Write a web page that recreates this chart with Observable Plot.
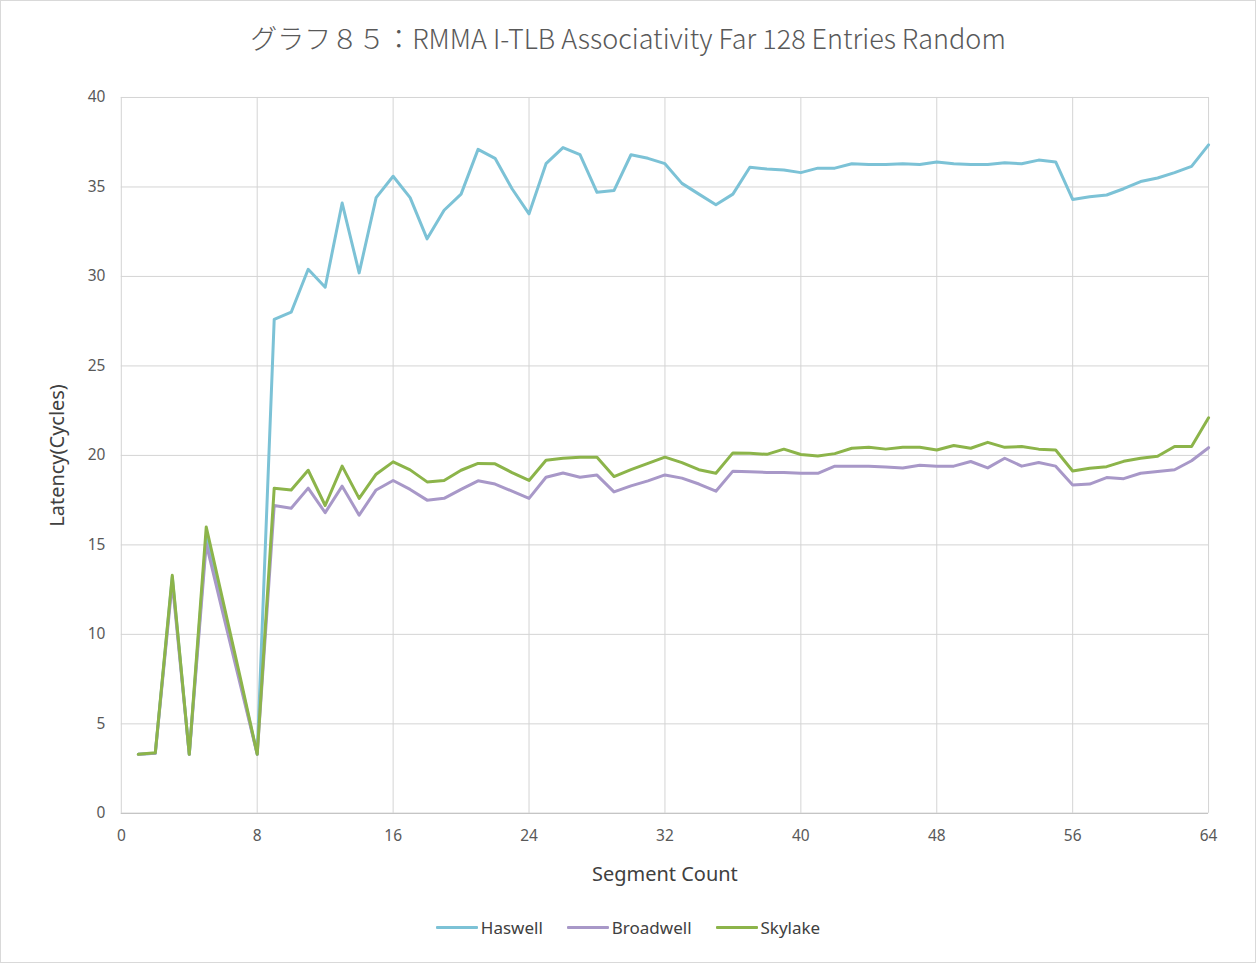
<!DOCTYPE html>
<html>
<head>
<meta charset="utf-8">
<script src="https://cdn.jsdelivr.net/npm/d3@7"></script>
<script src="https://cdn.jsdelivr.net/npm/@observablehq/plot@0.6"></script>
<style>
  html, body { margin: 0; padding: 0; background: #fff; }
  #frame { width: 1256px; height: 963px; box-sizing: border-box; border: 1px solid #d9d9d9; position: relative; overflow: hidden; }
  #title { height: 79px; line-height: 74px; text-align: center; font-family: "Noto Sans CJK JP", "Noto Sans", sans-serif; font-size: 27px; font-weight: 300; color: #595959; }
  #legend { display: flex; justify-content: center; align-items: center; gap: 24px; margin-top: 16px; font-family: "Noto Sans", sans-serif; font-size: 17px; color: #404040; }
  .item { display: flex; align-items: center; }
  .sw { width: 42px; height: 3px; margin-right: 3px; border-radius: 1px; }
</style>
</head>
<body>
<div id="frame">
  <div id="title">グラフ８５：RMMA I-TLB Associativity Far 128 Entries Random</div>
  <div id="chart"></div>
  <div id="legend"></div>
</div>
<script>
const segments = d3.range(1, 65);
const seriesNames = ["Haswell", "Broadwell", "Skylake"];
const seriesColors = ["#7cc2d6", "#a898c8", "#8cb44a"];

const haswell = [3.3, 3.35, 13.2, 3.3, 15.5, 11.4, 7.4, 3.3,
  27.6, 28.0, 30.4, 29.4, 34.1, 30.2, 34.4, 35.6,
  34.4, 32.1, 33.7, 34.6, 37.1, 36.6, 34.9, 33.5,
  36.3, 37.2, 36.8, 34.7, 34.8, 36.8, 36.6, 36.3,
  35.2, 34.6, 34.0, 34.6, 36.1, 36.0, 35.95, 35.8,
  36.05, 36.05, 36.3, 36.25, 36.25, 36.3, 36.25, 36.4,
  36.3, 36.25, 36.25, 36.35, 36.3, 36.5, 36.4, 34.3,
  34.45, 34.55, 34.9, 35.3, 35.5, 35.8, 36.15, 37.35];

const broadwell = [3.3, 3.35, 12.9, 3.3, 15.05, 11.1, 7.2, 3.3,
  17.2, 17.05, 18.17, 16.8, 18.28, 16.66, 18.07, 18.6,
  18.1, 17.5, 17.6, 18.1, 18.58, 18.4, 18.0, 17.6,
  18.78, 19.02, 18.78, 18.9, 17.96, 18.3, 18.58, 18.91,
  18.73, 18.4, 18.0, 19.12, 19.08, 19.05, 19.05, 19.0,
  19.0, 19.4, 19.4, 19.4, 19.35, 19.3, 19.45, 19.4,
  19.4, 19.66, 19.3, 19.84, 19.4, 19.6, 19.4, 18.35,
  18.4, 18.76, 18.7, 19.0, 19.1, 19.2, 19.7, 20.43];

const skylake = [3.3, 3.38, 13.3, 3.3, 16.0, 11.8, 7.6, 3.3,
  18.17, 18.07, 19.17, 17.2, 19.4, 17.6, 18.95, 19.64,
  19.19, 18.52, 18.6, 19.17, 19.55, 19.53, 19.04, 18.6,
  19.73, 19.84, 19.9, 19.9, 18.82, 19.2, 19.55, 19.9,
  19.6, 19.2, 19.0, 20.14, 20.12, 20.06, 20.35, 20.05,
  19.97, 20.1, 20.4, 20.45, 20.35, 20.45, 20.45, 20.3,
  20.55, 20.4, 20.73, 20.45, 20.5, 20.35, 20.3, 19.13,
  19.28, 19.37, 19.67, 19.84, 19.95, 20.5, 20.5, 22.1];

const xTicks = [0, 8, 16, 24, 32, 40, 48, 56, 64];
const yTicks = [0, 5, 10, 15, 20, 25, 30, 35, 40];

const seriesValues = [haswell, broadwell, skylake];
const data = [];
seriesNames.forEach((name, i) => {
  segments.forEach((s, j) => data.push({series: name, x: s, y: seriesValues[i][j]}));
});

const chart = Plot.plot({
  width: 1256,
  height: 821,
  marginLeft: 120,
  marginRight: 47,
  marginTop: 17,
  marginBottom: 87,
  style: {fontFamily: "'Noto Sans', sans-serif", fontSize: "15px", color: "#595959", background: "#fff"},
  x: {domain: [0, 64]},
  y: {domain: [0, 40]},
  color: {domain: seriesNames, range: seriesColors},
  marks: [
    Plot.gridX(xTicks, {stroke: "#d4d4d4", strokeOpacity: 1, strokeWidth: 1}),
    Plot.gridY(yTicks, {stroke: "#d4d4d4", strokeOpacity: 1, strokeWidth: 1}),
    Plot.ruleY([0], {stroke: "#bfbfbf"}),
    Plot.axisX({ticks: xTicks, tickSize: 0, tickPadding: 17, fontSize: 15.5, fill: "#595959",
      label: "Segment Count", labelAnchor: "center", labelArrow: "none", labelOffset: 68}),
    Plot.axisY({ticks: yTicks, tickSize: 0, tickPadding: 16, fontSize: 15.5, fill: "#595959",
      label: "Latency(Cycles)", labelAnchor: "center", labelArrow: "none", labelOffset: 72}),
    Plot.line(data, {x: "x", y: "y", z: "series", stroke: "series", strokeWidth: 3, strokeLinejoin: "round", strokeLinecap: "round"})
  ]
});
document.getElementById("chart").appendChild(chart);

d3.select(chart).selectAll("[aria-label='x-axis label'] text, [aria-label='y-axis label'] text")
  .style("font-size", "20px").style("fill", "#404040");

const legend = document.getElementById("legend");
seriesNames.forEach((n, i) => {
  const it = document.createElement("div");
  it.className = "item";
  const sw = document.createElement("div");
  sw.className = "sw";
  sw.style.background = seriesColors[i];
  const t = document.createElement("span");
  t.textContent = n;
  it.appendChild(sw); it.appendChild(t);
  legend.appendChild(it);
});
</script>
</body>
</html>
